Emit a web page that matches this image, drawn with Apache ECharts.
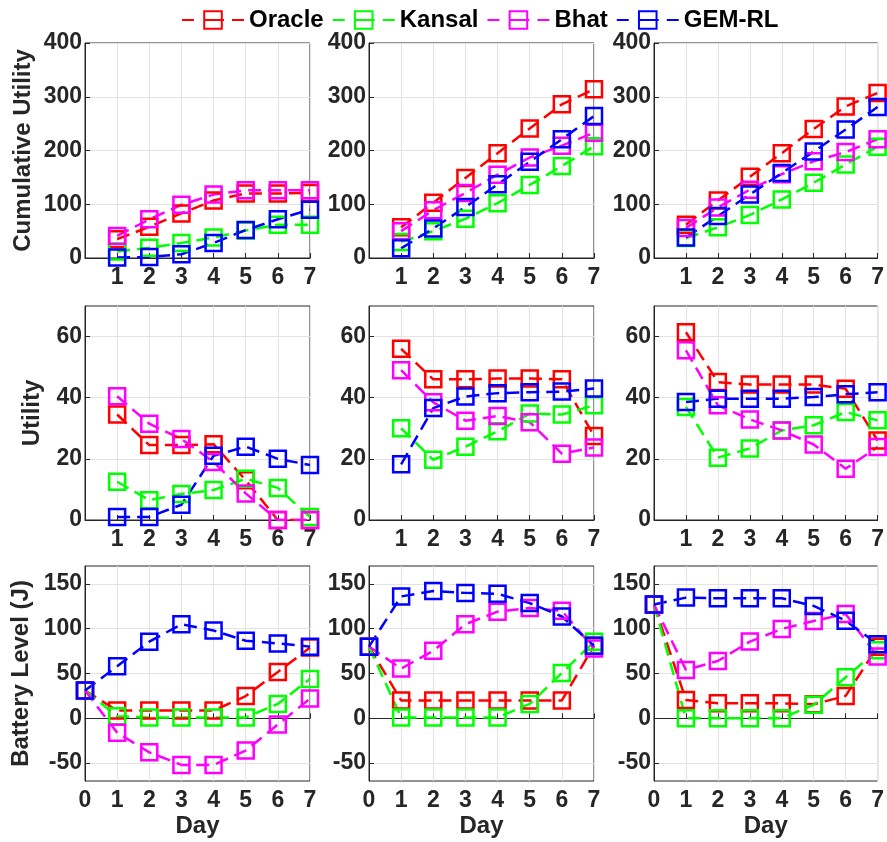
<!DOCTYPE html>
<html>
<head>
<meta charset="utf-8">
<title>Utility / Battery</title>
<script src="https://cdn.jsdelivr.net/npm/echarts@6/dist/echarts.min.js"></script>
<style>
  html, body { margin: 0; padding: 0; background: #fff; }
  #chart { width: 887px; height: 842px; }
</style>
</head>
<body>
<div id="chart"></div>
<script>
// x values
var days = [1, 2, 3, 4, 5, 6, 7];
var daysBatt = [0, 1, 2, 3, 4, 5, 6, 7];

var methods = ['Oracle', 'Kansal', 'Bhat', 'GEM-RL'];
var colors = ['#ff0000', '#00ff00', '#ff00ff', '#0000ff'];

// row 1: cumulative utility, one list per panel (left, middle, right)
var cumOracle = [
  [35, 58, 83, 107, 120, 120, 121],
  [57, 103, 149, 195, 241, 286, 314],
  [62, 107, 151, 195, 240, 282, 307]
];
var cumKansal = [
  [12, 19, 28, 38, 51, 62, 62],
  [30, 50, 73, 102, 136, 171, 208],
  [37, 57, 80, 109, 140, 174, 207]
];
var cumBhat = [
  [41, 72, 99, 118, 126, 126, 126],
  [50, 89, 121, 155, 187, 209, 233],
  [56, 94, 127, 156, 180, 197, 221]
];
var cumGem = [
  [1, 2, 7, 28, 52, 72, 90],
  [18, 55, 95, 137, 179, 221, 264],
  [38, 78, 118, 158, 198, 239, 281]
];

// row 2: daily utility
var utilOracle = [
  [34.5, 24.5, 24.5, 24.8, 13, 0, 0],
  [56, 46, 46, 46.3, 46.3, 46, 27.5],
  [61.4, 45.1, 44.3, 44.3, 44.3, 42.9, 26]
];
var utilKansal = [
  [12.5, 6.5, 8.5, 9.8, 13.5, 10.5, 1],
  [30, 19.7, 24, 29, 34.8, 34.5, 37.5],
  [37, 20.4, 23.4, 29.3, 31, 35.3, 32.6]
];
var utilBhat = [
  [40.5, 31.5, 26.5, 19, 8.7, 0, 0],
  [49, 38.5, 32.5, 34, 32, 21.7, 23.7],
  [55.5, 37.5, 32.9, 29.3, 24.7, 16.8, 23.9]
];
var utilGem = [
  [1, 1, 5, 21, 24, 20, 18],
  [18.2, 36.6, 40.4, 41.5, 41.8, 42, 43],
  [38.6, 39.7, 39.7, 39.7, 40.2, 41.1, 41.8]
];

// row 3: battery level, day 0..7
var battOracle = [
  [31, 8.6, 8.6, 8.6, 8.6, 24.8, 51.8, 79],
  [80, 20, 20, 20, 20, 20, 20, 81],
  [127, 20.5, 16.7, 16.7, 16.7, 15.6, 25, 80]
];
var battKansal = [
  [31, 2.3, 1, 1, 1, 1, 16, 44],
  [80, 1, 1, 1, 1, 16, 50.6, 85.5],
  [127, 0, 0, 0, 0, 15, 45.8, 76]
];
var battBhat = [
  [31, -16, -38, -52, -52, -36, -7, 22],
  [80, 55.5, 75.4, 105, 119, 123, 120, 78],
  [127, 54, 64, 85.6, 99.7, 108.7, 116.5, 69]
];
var battGem = [
  [31, 58, 85.5, 105, 98, 86.6, 83.6, 80],
  [80, 136, 142, 140, 139, 128.6, 113.6, 81],
  [127, 134.7, 134, 134, 134, 125.4, 109, 82.6]
];

// y tick labels per row
var yTicksCum = [0, 100, 200, 300, 400];
var yTicksUtil = [0, 20, 40, 60];
var yTicksBatt = [-50, 0, 50, 100, 150];

var rows = [
  { name: 'Cumulative Utility', x: days, min: 0, max: 400, ticks: yTicksCum, gap: 50, data: [cumOracle, cumKansal, cumBhat, cumGem] },
  { name: 'Utility', x: days, min: 0, max: 70, ticks: yTicksUtil, gap: 41, data: [utilOracle, utilKansal, utilBhat, utilGem] },
  { name: 'Battery Level (J)', x: daysBatt, min: -70, max: 170, ticks: yTicksBatt, gap: 52, data: [battOracle, battKansal, battBhat, battGem] }
];

var colLeft = [85, 369, 654];
var colWidth = [225, 225, 226];
var rowTop = [43, 306, 566];
var rowHeight = [215, 214, 215];

var font = "'Liberation Sans', Arial, sans-serif";
var txt = '#262626';

var grids = [], xAxes = [], yAxes = [], series = [];

rows.forEach(function (row, r) {
  for (var c = 0; c < 3; c++) {
    var idx = grids.length;
    grids.push({
      left: colLeft[c], top: rowTop[r], width: colWidth[c], height: rowHeight[r],
      show: true, borderColor: txt, borderWidth: 1
    });
    xAxes.push({
      gridIndex: idx, type: 'value', min: 0, max: 7, interval: 1,
      name: r === 2 ? 'Day' : '', nameLocation: 'middle', nameGap: 33,
      nameTextStyle: { fontSize: 24, fontWeight: 'bold', color: txt, fontFamily: font },
      axisLine: { show: true, lineStyle: { color: txt, width: 1 } },
      axisTick: { show: true, inside: true, length: 5, lineStyle: { color: txt } },
      axisLabel: {
        fontSize: 23, fontWeight: 'bold', color: txt, fontFamily: font, margin: 8,
        formatter: function (v) { return (r < 2 && v === 0) ? '' : String(v); }
      },
      splitLine: { show: true, lineStyle: { color: '#e3e3e3', width: 1 } }
    });
    yAxes.push({
      gridIndex: idx, type: 'value', min: row.min, max: row.max,
      name: c === 0 ? row.name : '', nameLocation: 'middle', nameGap: row.gap, nameRotate: 90,
      nameTextStyle: { fontSize: 24, fontWeight: 'bold', color: txt, fontFamily: font },
      axisLine: { show: true, lineStyle: { color: txt, width: 1 } },
      axisTick: { show: true, inside: true, length: 5, lineStyle: { color: txt }, customValues: row.ticks },
      axisLabel: { fontSize: 23, fontWeight: 'bold', color: txt, fontFamily: font, margin: 3, customValues: row.ticks },
      splitLine: { show: true, lineStyle: { color: '#e3e3e3', width: 1 } }
    });
    row.data.forEach(function (panels, m) {
      series.push({
        name: methods[m],
        type: 'line',
        xAxisIndex: idx, yAxisIndex: idx,
        data: panels[c].map(function (v, i) { return [row.x[i], v]; }),
        symbol: 'rect', symbolSize: 16,
        lineStyle: { color: colors[m], width: 2.5, type: [13, 7] },
        itemStyle: { color: 'rgba(0,0,0,0)', borderColor: colors[m], borderWidth: 2.5 },
        emphasis: { disabled: true },
        animation: false
      });
    });
  }
});

var chart = echarts.init(document.getElementById('chart'));
chart.setOption({
  animation: false,
  color: colors,
  legend: {
    data: methods, left: 176, top: 3,
    itemWidth: 62, itemHeight: 22, itemGap: 8,
    // dash - square - dash like the original key
    lineStyle: { type: [12, 10, 20, 8, 12, 0] },
    textStyle: { fontSize: 24, fontWeight: 'bold', color: '#000', fontFamily: font }
  },
  grid: grids,
  xAxis: xAxes,
  yAxis: yAxes,
  series: series
});
</script>
</body>
</html>
